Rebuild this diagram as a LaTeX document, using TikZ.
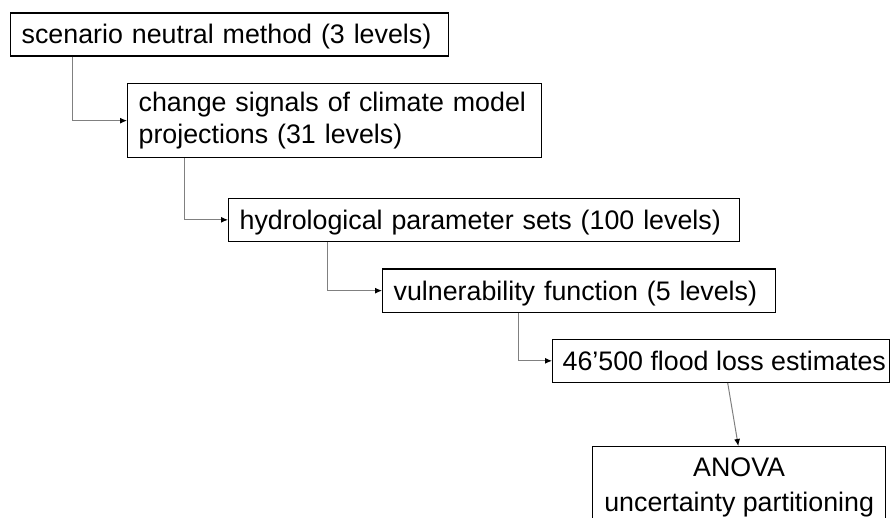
\documentclass[tikz,border=0pt]{standalone}
\usepackage{fontspec}
\setmainfont{Liberation Sans}
\usetikzlibrary{arrows.meta}
\definecolor{linkgray}{rgb}{0.5,0.5,0.5}

\begin{document}
\begin{tikzpicture}[x=1bp,y=-1bp,
    box/.style={draw=black, line width=1.3bp, anchor=north west, inner xsep=11bp, inner ysep=0bp,
                font=\fontsize{26.8bp}{32bp}\selectfont, align=left},
    oneline/.style={box, minimum height=43bp, text height=20bp, text depth=1bp},
    link/.style={draw=linkgray, line width=1bp, -{Latex[length=7bp,width=6bp,color=black]}}] %flow
            \clip (0,0) rectangle (890,518);

            \node[oneline, minimum width=438bp, text width=416bp] (scen) at (10,12.3) {scenario neutral method (3 levels)};
            \node[box, minimum width=414bp, minimum height=74bp, text width=392bp] (chg) at (127,83) {change signals of climate model\\projections (31 levels)};
            \node[oneline, minimum width=511bp, text width=489bp] (hydro) at (228,197.7) {hydrological parameter sets (100 levels)};
            \node[oneline, minimum width=393bp, text width=371bp] (vuln) at (382,268.5) {vulnerability function (5 levels)};
            \node[oneline, inner xsep=10bp] (loss) at (552,338.7) {\makebox[317bp][l]{46’500 flood loss estimates}};
            \node[box, minimum width=293bp, align=center, inner xsep=4bp, inner ysep=11.5bp,
                  font=\fontsize{26.8bp}{35bp}\selectfont] (anova) at (592,446) {ANOVA\\uncertainty partitioning\\[4bp]};

            \draw[link] ([xshift=62.7bp]scen.south west) |- (chg.west);
            \draw[link] ([xshift=57bp]chg.south west) |- (hydro.west);
            \draw[link] ([xshift=99.3bp]hydro.south west) |- (vuln.west);
            \draw[link] ([xshift=136.3bp]vuln.south west) |- (loss.west);
            \draw[link] ([xshift=175.7bp]loss.south west) -- ([xshift=146.3bp]anova.north west);
        \end{tikzpicture}
\end{document}
